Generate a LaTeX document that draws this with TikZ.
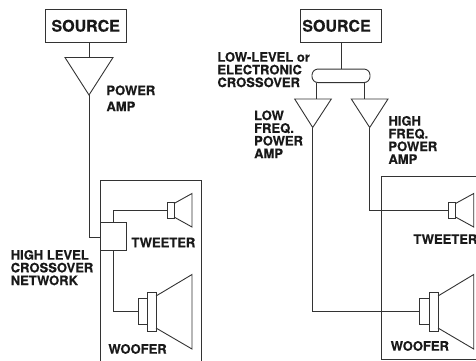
\documentclass[tikz,border=0pt]{standalone}
\usepackage{fontspec}
\setmainfont[BoldFeatures={FakeBold=0.5}]{TeX Gyre Heros}
\begin{document}
\begin{tikzpicture}[
		x=1pt,
		y=-1pt,
		line width=0.9pt,
		draw=black!80,
		font=\bfseries
	]
	\tikzset{
		boxn/.style = {rectangle, draw, inner sep=0pt},
		sourcen/.style = {boxn, minimum width=80.5pt, minimum height=32.5pt, text=black!90, font=\fontsize{16}{16}\selectfont\bfseries},
		xovern/.style = {boxn, minimum width=26pt, minimum height=27.5pt},
		labeln/.style = {align=left, anchor=north west, inner sep=0pt, text=black!90, font=\fontsize{13}{12.7}\selectfont\bfseries},
		edgen/.style = {-},
	}
	\useasboundingbox (0,0) rectangle (476,360);
	% left chain
	\node[sourcen] at (85.7,25.8) (srca) {SOURCE};
	\coordinate (ampaL) at (65,57.5);
	\coordinate (ampaR) at (113,57.5);
	\coordinate (ampaT) at (89,95);
	\coordinate (ampaI) at (89,57.5);
	\coordinate (srcaO) at (89,42);
	\node[xovern] at (113,236.4) (xover) {};
	\coordinate (bend) at (89,237);
	\coordinate (xin) at (100,237);
	\coordinate (twabend) at (113.5,210);
	\coordinate (wfabend) at (113.5,311);
	\coordinate (xtop) at (113.5,222.7);
	\coordinate (xbot) at (113.5,250);
	\coordinate (twa) at (167,210);
	\coordinate (wfa) at (138,311);
	%
	\draw[edgen] (srcaO) -- (ampaI);
	\draw[edgen] (ampaL) -- (ampaR) -- (ampaT) -- cycle;
	\draw[edgen] (ampaT) -- (bend) -- (xin);
	\draw[edgen] (xtop) -- (twabend) -- (twa);
	\draw[edgen] (xbot) -- (wfabend) -- (wfa);
	% left cabinet and drivers
	\draw (100,362) -- (100,180) -- (201.5,180) -- (201.5,362);
	\draw (167,202.3) rectangle (174,218.3);
	\draw (174,203.5) -- (192,193.5) -- (192,227) -- (174,217);
	\draw (138,298.3) rectangle (147,324.3);
	\draw (147,292.3) rectangle (156,331);
	\draw (156,296) -- (192,274.5) -- (192,349) -- (156,328);
	% right chain
	\node[sourcen] at (341,25.8) (srcb) {SOURCE\hspace*{9pt}};
	\node[rectangle, draw, rounded corners=6pt, minimum width=58pt, minimum height=13.5pt, inner sep=0pt] at (341,75.8) (lowx) {};
	\coordinate (lowxL) at (316.7,82.5);
	\coordinate (lowxR) at (364.3,82.5);
	\coordinate (ampbI) at (316.7,99);
	\coordinate (ampcI) at (364.3,99);
	\coordinate (ampbL) at (294.7,99);
	\coordinate (ampbR) at (331.3,99);
	\coordinate (ampbT) at (312.7,127.5);
	\coordinate (ampcL) at (351.3,99);
	\coordinate (ampcR) at (388,99);
	\coordinate (ampcT) at (369.7,127.5);
	\coordinate (lowbend) at (312.7,311);
	\coordinate (highbend) at (369.7,210);
	\coordinate (wfb) at (419.7,311);
	\coordinate (twb) at (448.7,210);
	%
	\draw[edgen] (srcb) -- (lowx);
	\draw[edgen] (lowxL) -- (ampbI);
	\draw[edgen] (lowxR) -- (ampcI);
	\draw[edgen] (ampbL) -- (ampbR) -- (ampbT) -- cycle;
	\draw[edgen] (ampcL) -- (ampcR) -- (ampcT) -- cycle;
	\draw[edgen] (ampbT) -- (lowbend) -- (wfb);
	\draw[edgen] (ampcT) -- (highbend) -- (twb);
	% right cabinet and drivers
	\draw (481,176.7) -- (381.5,176.7) -- (381.5,359) -- (481,359);
	\draw (448.7,202.3) rectangle (455.5,218.3);
	\draw (455.5,203.5) -- (473.7,193.5) -- (473.7,227) -- (455.5,217);
	\draw (419.7,298.3) rectangle (429,324.3);
	\draw (429,292.3) rectangle (438,331);
	\draw (438,296) -- (473.7,274.5) -- (473.7,349) -- (438,328);
	% labels
	\node[labeln, font=\fontsize{13}{16}\selectfont\bfseries] at (106,85) (lpower) {POWER\\AMP};
	\node[labeln] at (10.3,249.6) (lhigh) {HIGH LEVEL\\CROSSOVER\\NETWORK};
	\node[labeln] at (131,237.3) (ltwa) {TWEETER};
	\node[labeln] at (108,343.6) (lwfa) {WOOFER};
	\node[labeln] at (217,51.6) (llowx) {LOW-LEVEL or\\ELECTRONIC\\CROSSOVER};
	\node[labeln] at (253.7,110) (llowf) {LOW\\FREQ.\\POWER\\AMP};
	\node[labeln] at (388,115.6) (lhighf) {HIGH\\FREQ.\\POWER\\AMP};
	\node[labeln] at (413,233.9) (ltwb) {TWEETER};
	\node[labeln] at (390.3,340.6) (lwfb) {WOOFER};
\end{tikzpicture}
\end{document}
